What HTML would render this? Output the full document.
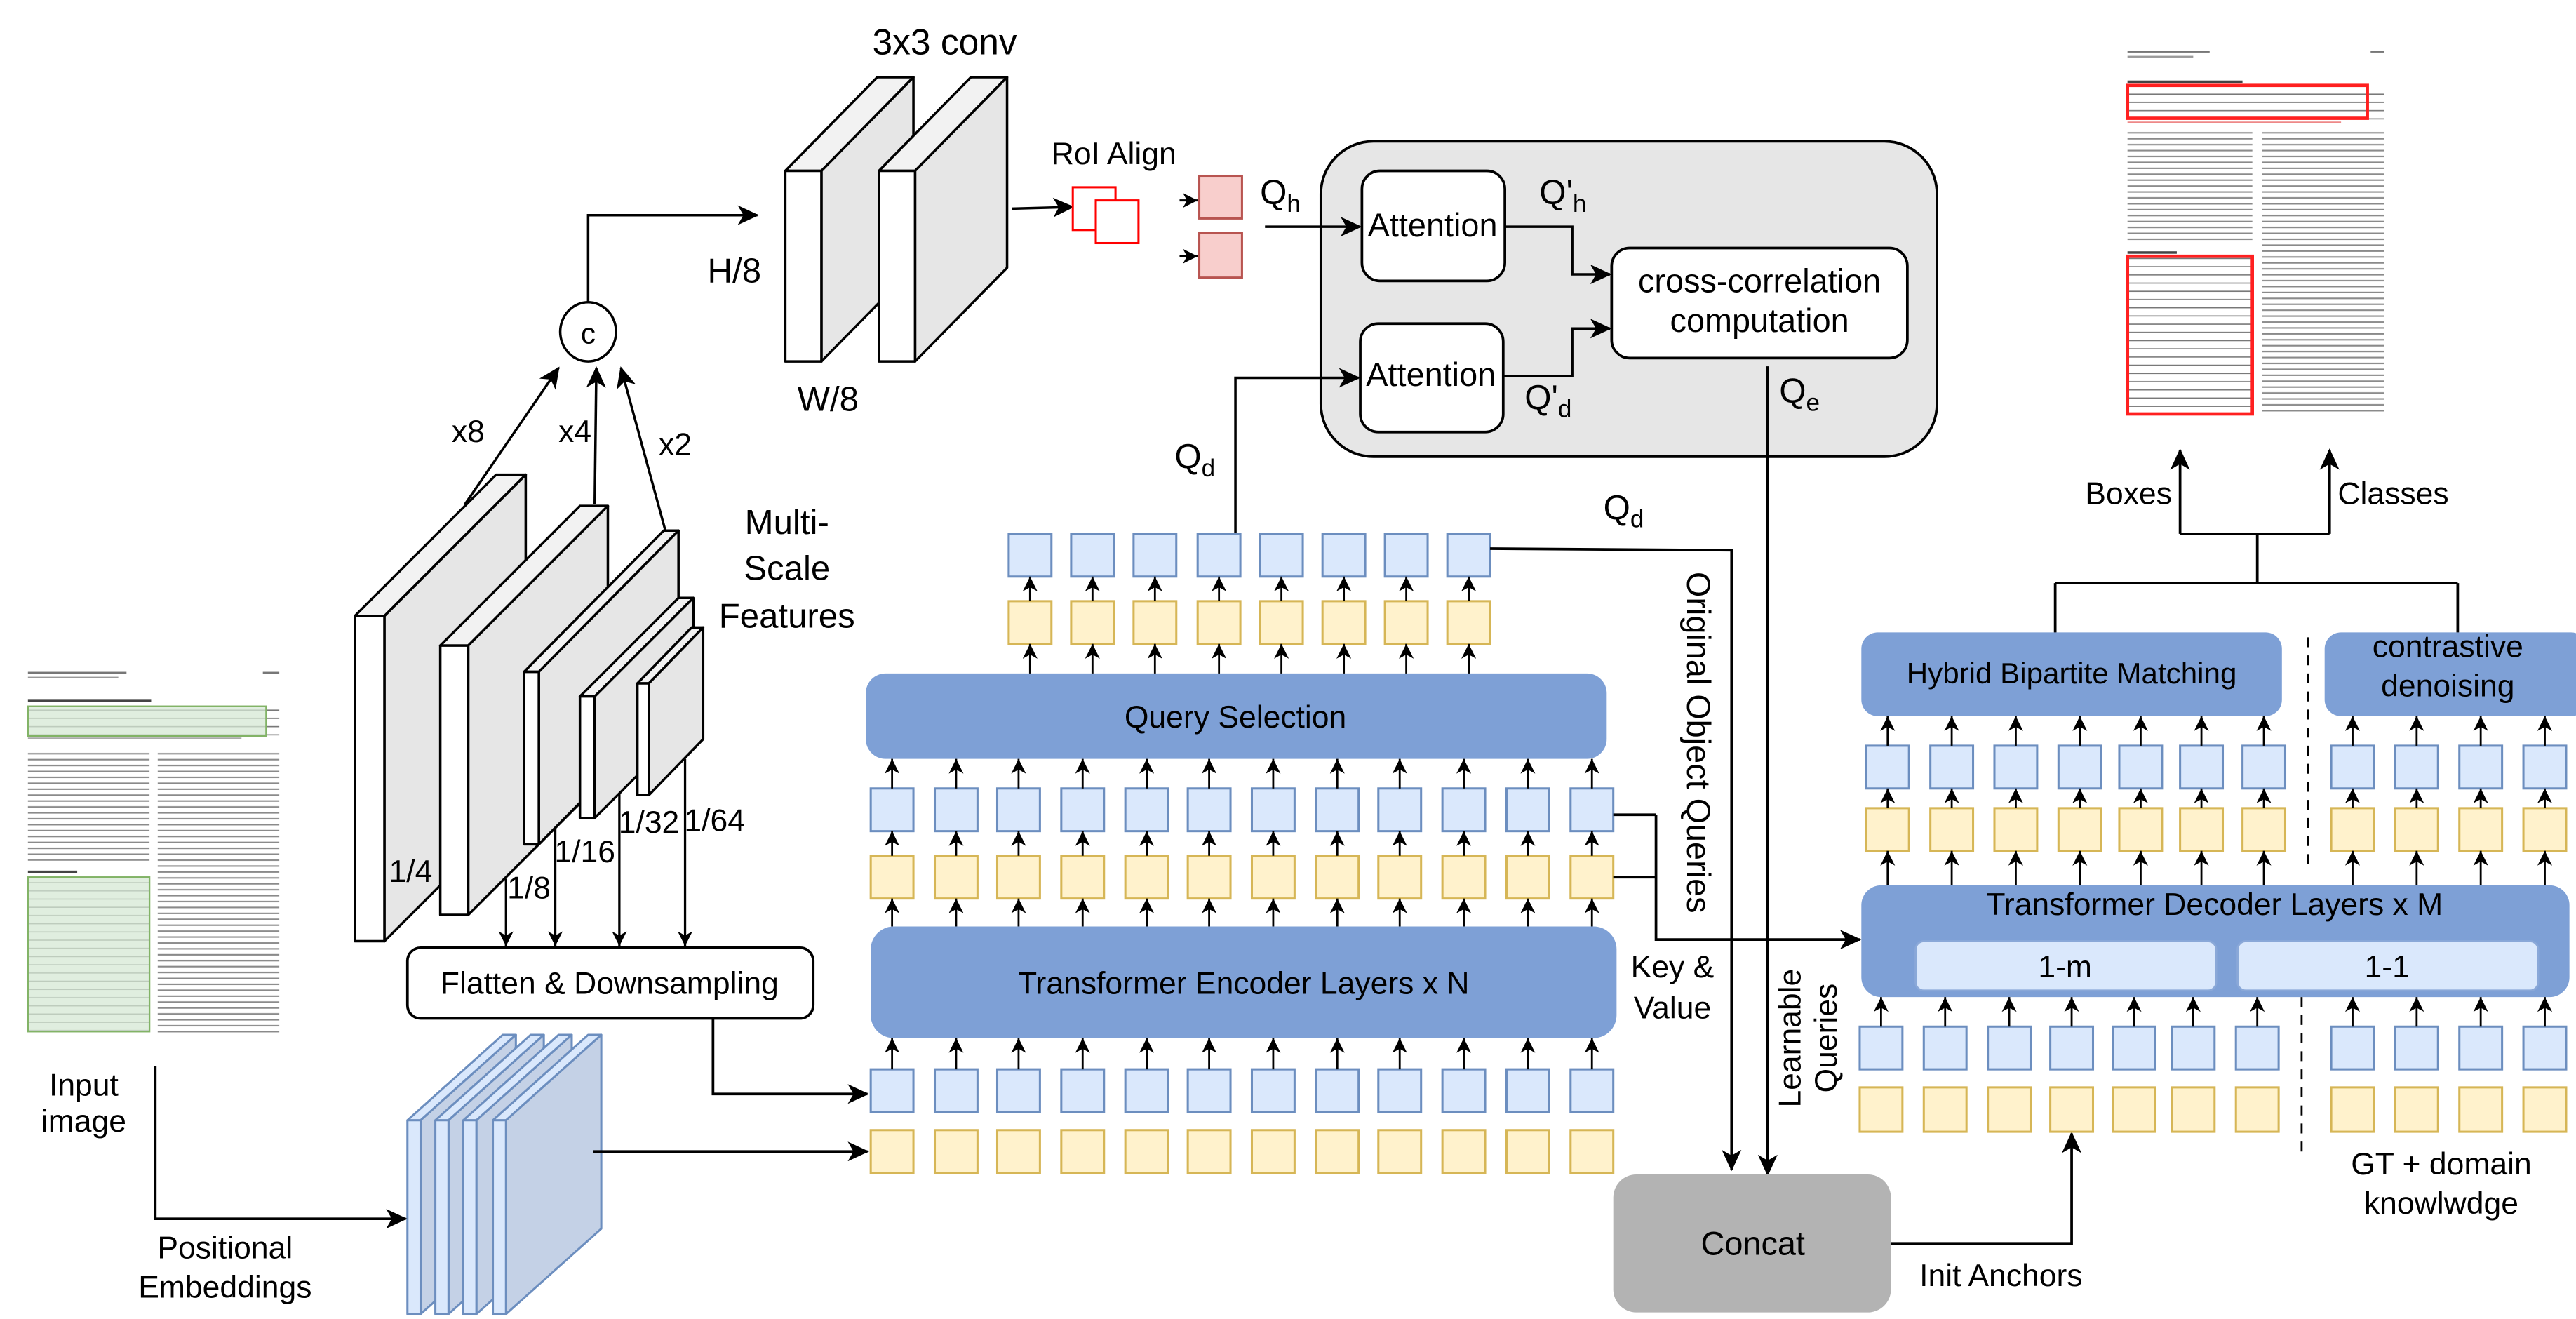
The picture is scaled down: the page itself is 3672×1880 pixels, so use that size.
<!DOCTYPE html>
<html><head><meta charset="utf-8"><style>
html,body{margin:0;padding:0;background:#fff;}
svg{display:block;}
text{font-family:"Liberation Sans",Arial,sans-serif;fill:#000;}
</style></head><body>
<svg xmlns="http://www.w3.org/2000/svg" width="3672" height="1880" viewBox="0 0 1568 803" preserveAspectRatio="none">
<defs>
<marker id="a" markerUnits="userSpaceOnUse" markerWidth="14" markerHeight="12" refX="12" refY="6" orient="auto"><path d="M0,0 L13,6 L0,12 L3.5,6 z" fill="#000"/></marker>
<marker id="s" markerUnits="userSpaceOnUse" markerWidth="10" markerHeight="9" refX="9" refY="4.5" orient="auto"><path d="M0,0 L9,4.5 L0,9 L2.5,4.5 z" fill="#000"/></marker>
<pattern id="tx" width="10" height="3.6" patternUnits="userSpaceOnUse"><rect x="0" y="1.2" width="10" height="0.9" fill="#8a8a8a"/></pattern>
<pattern id="tb" width="10" height="5" patternUnits="userSpaceOnUse"><rect x="0" y="2" width="10" height="0.7" fill="#777"/></pattern>
</defs>

<!-- ===== Left page thumbnail ===== -->
<g>
<rect x="17" y="409" width="60" height="1.3" fill="#777"/><rect x="17" y="412" width="55" height="1" fill="#999"/><rect x="160" y="409" width="10" height="1.3" fill="#777"/>
<rect x="17" y="426" width="75" height="1.5" fill="#444"/>
<rect x="17" y="430" width="153" height="18" fill="url(#tb)"/>
<rect x="17" y="430" width="145" height="18" fill="#d5e8d4" fill-opacity="0.75" stroke="#82b366" stroke-width="1"/>
<rect x="17" y="449" width="130" height="1" fill="#aaa"/>
<rect x="17" y="456" width="74" height="68" fill="url(#tx)"/>
<rect x="96" y="456" width="74" height="173" fill="url(#tx)"/>
<rect x="17" y="530" width="30" height="1.5" fill="#444"/>
<rect x="17" y="534" width="74" height="94" fill="url(#tb)"/>
<rect x="17" y="534" width="74" height="94" fill="#d5e8d4" fill-opacity="0.75" stroke="#82b366" stroke-width="1"/>
</g>

<!-- ===== Right page thumbnail ===== -->
<g>
<rect x="1295" y="31" width="50" height="1" fill="#777"/><rect x="1295" y="34" width="40" height="1" fill="#999"/><rect x="1443" y="31" width="8" height="1" fill="#777"/>
<rect x="1295" y="49" width="70" height="1.5" fill="#444"/>
<rect x="1295" y="53" width="156" height="20" fill="url(#tb)"/>
<rect x="1295" y="52" width="146" height="20" fill="none" stroke="#ff2020" stroke-width="2"/>
<rect x="1295" y="74" width="130" height="1" fill="#e88"/>
<rect x="1295" y="80" width="76" height="68" fill="url(#tx)"/>
<rect x="1377" y="80" width="74" height="173" fill="url(#tx)"/>
<rect x="1295" y="153" width="30" height="1.5" fill="#444"/>
<rect x="1295" y="156" width="76" height="96" fill="url(#tb)"/>
<rect x="1295" y="156" width="76" height="96" fill="none" stroke="#ff2020" stroke-width="2"/>
</g>

<!-- ===== Multi-scale feature slabs ===== -->
<g stroke="#000" stroke-width="1.5" stroke-linejoin="round">
<polygon points="216,375 234,375 320,289 302,289" fill="#f2f2f2"/>
<polygon points="234,375 320,289 320,487 234,573" fill="#e6e6e6"/>
<rect x="216" y="375" width="18" height="198" fill="#fff"/>
<polygon points="268,393 285,393 370,308 353,308" fill="#f2f2f2"/>
<polygon points="285,393 370,308 370,472 285,557" fill="#e6e6e6"/>
<rect x="268" y="393" width="17" height="164" fill="#fff"/>
<polygon points="319,409 328,409 413,323 404,323" fill="#f2f2f2"/>
<polygon points="328,409 413,323 413,428 328,514" fill="#e6e6e6"/>
<rect x="319" y="409" width="9" height="105" fill="#fff"/>
<polygon points="353,424 362,424 422,364 413,364" fill="#f2f2f2"/>
<polygon points="362,424 422,364 422,438 362,498" fill="#e6e6e6"/>
<rect x="353" y="424" width="9" height="74" fill="#fff"/>
<polygon points="388,416 395,416 428,382 421,382" fill="#f2f2f2"/>
<polygon points="395,416 428,382 428,450 395,484" fill="#e6e6e6"/>
<rect x="388" y="416" width="7" height="68" fill="#fff"/>
</g>
<g font-size="19" text-anchor="middle">
<text x="250" y="537">1/4</text>
<text x="322" y="547">1/8</text>
<text x="356" y="525">1/16</text>
<text x="395" y="507">1/32</text>
<text x="435" y="506">1/64</text>
</g>
<g stroke="#000" stroke-width="1.4" fill="none" marker-end="url(#s)">
<path d="M308,535 V576"/><path d="M338,504 V576"/><path d="M377,483 V576"/><path d="M417,462 V576"/>
</g>

<g stroke="#000" stroke-width="1.5" fill="none">
<ellipse cx="358" cy="202" rx="17" ry="18" fill="#fff"/>
<path d="M283,307 L340,224" marker-end="url(#a)"/>
<path d="M362,307 L363,224" marker-end="url(#a)"/>
<path d="M405,323 L378,224" marker-end="url(#a)"/>
<path d="M358,184 V131 H461" marker-end="url(#a)"/>
</g>
<text x="358" y="209" font-size="18" text-anchor="middle">c</text>
<g font-size="19" text-anchor="middle">
<text x="285" y="269">x8</text>
<text x="350" y="269">x4</text>
<text x="411" y="277">x2</text>
</g>
<g font-size="21" text-anchor="middle">
<text x="479" y="325">Multi-</text>
<text x="479" y="353">Scale</text>
<text x="479" y="382">Features</text>
</g>

<!-- ===== 3x3 conv slabs ===== -->
<g stroke="#000" stroke-width="1.5" stroke-linejoin="round">
<polygon points="478,104 500,104 556,47 534,47" fill="#f2f2f2"/>
<polygon points="500,104 556,47 556,163 500,220" fill="#e6e6e6"/>
<rect x="478" y="104" width="22" height="116" fill="#fff"/>
<polygon points="535,104 557,104 613,47 591,47" fill="#f2f2f2"/>
<polygon points="557,104 613,47 613,163 557,220" fill="#e6e6e6"/>
<rect x="535" y="104" width="22" height="116" fill="#fff"/>
</g>
<text x="575" y="33" font-size="22" text-anchor="middle">3x3 conv</text>
<text x="447" y="172" font-size="21" text-anchor="middle">H/8</text>
<text x="504" y="250" font-size="21" text-anchor="middle">W/8</text>

<!-- RoI Align -->
<text x="678" y="100" font-size="19" text-anchor="middle">RoI Align</text>
<path d="M616,127 L653,126" stroke="#000" stroke-width="1.5" marker-end="url(#a)"/>
<rect x="653" y="114" width="26" height="26" fill="#fff" stroke="#ff0000" stroke-width="1.3"/>
<rect x="667" y="122" width="26" height="26" fill="#fff" stroke="#ff0000" stroke-width="1.3"/>
<rect x="730" y="107" width="26" height="26" fill="#f8cecc" stroke="#b85450" stroke-width="1.3"/>
<rect x="730" y="142" width="26" height="27" fill="#f8cecc" stroke="#b85450" stroke-width="1.3"/>
<path d="M718,122 H729" stroke="#000" stroke-width="1.3" marker-end="url(#s)"/>
<path d="M718,156 H729" stroke="#000" stroke-width="1.3" marker-end="url(#s)"/>

<!-- ===== Gray attention container ===== -->
<rect x="804" y="86" width="375" height="192" rx="32" fill="#e6e6e6" stroke="#000" stroke-width="1.6"/>
<rect x="829" y="104" width="87" height="67" rx="11" fill="#fff" stroke="#000" stroke-width="1.6"/>
<rect x="828" y="197" width="87" height="66" rx="11" fill="#fff" stroke="#000" stroke-width="1.6"/>
<rect x="981" y="151" width="180" height="67" rx="11" fill="#fff" stroke="#000" stroke-width="1.6"/>
<text x="872" y="144" font-size="20" text-anchor="middle">Attention</text>
<text x="871" y="235" font-size="20" text-anchor="middle">Attention</text>
<text x="1071" y="178" font-size="20" text-anchor="middle">cross-correlation</text>
<text x="1071" y="202" font-size="20" text-anchor="middle">computation</text>
<g stroke="#000" stroke-width="1.5" fill="none">
<path d="M770,138 H828" marker-end="url(#a)"/>
<path d="M916,138 H957 V167 H980" marker-end="url(#a)"/>
<path d="M915,229 H957 V200 H980" marker-end="url(#a)"/>
<path d="M752,325 V230 H827" marker-end="url(#a)"/>
</g>
<g font-size="21">
<text x="767" y="124">Q<tspan font-size="15" dy="5">h</tspan></text>
<text x="937" y="124">Q'<tspan font-size="15" dy="5">h</tspan></text>
<text x="928" y="249">Q'<tspan font-size="15" dy="5">d</tspan></text>
<text x="1083" y="245">Q<tspan font-size="15" dy="5">e</tspan></text>
<text x="715" y="285">Q<tspan font-size="15" dy="5">d</tspan></text>
<text x="976" y="316">Q<tspan font-size="15" dy="5">d</tspan></text>
</g>

<!-- ===== Encoder side tokens ===== -->
<g stroke-width="1.3">
<g fill="#dae8fc" stroke="#6c8ebf">
<rect x="614" y="325" width="26" height="26"/><rect x="652" y="325" width="26" height="26"/><rect x="690" y="325" width="26" height="26"/><rect x="729" y="325" width="26" height="26"/><rect x="767" y="325" width="26" height="26"/><rect x="805" y="325" width="26" height="26"/><rect x="843" y="325" width="26" height="26"/><rect x="881" y="325" width="26" height="26"/>
</g>
<g fill="#fff2cc" stroke="#d6b656">
<rect x="614" y="366" width="26" height="26"/><rect x="652" y="366" width="26" height="26"/><rect x="690" y="366" width="26" height="26"/><rect x="729" y="366" width="26" height="26"/><rect x="767" y="366" width="26" height="26"/><rect x="805" y="366" width="26" height="26"/><rect x="843" y="366" width="26" height="26"/><rect x="881" y="366" width="26" height="26"/>
</g>
<g fill="#dae8fc" stroke="#6c8ebf">
<rect x="530" y="480" width="26" height="26"/><rect x="569" y="480" width="26" height="26"/><rect x="607" y="480" width="26" height="26"/><rect x="646" y="480" width="26" height="26"/><rect x="685" y="480" width="26" height="26"/><rect x="723" y="480" width="26" height="26"/><rect x="762" y="480" width="26" height="26"/><rect x="801" y="480" width="26" height="26"/><rect x="839" y="480" width="26" height="26"/><rect x="878" y="480" width="26" height="26"/><rect x="917" y="480" width="26" height="26"/><rect x="956" y="480" width="26" height="26"/>
<rect x="530" y="651" width="26" height="26"/><rect x="569" y="651" width="26" height="26"/><rect x="607" y="651" width="26" height="26"/><rect x="646" y="651" width="26" height="26"/><rect x="685" y="651" width="26" height="26"/><rect x="723" y="651" width="26" height="26"/><rect x="762" y="651" width="26" height="26"/><rect x="801" y="651" width="26" height="26"/><rect x="839" y="651" width="26" height="26"/><rect x="878" y="651" width="26" height="26"/><rect x="917" y="651" width="26" height="26"/><rect x="956" y="651" width="26" height="26"/>
</g>
<g fill="#fff2cc" stroke="#d6b656">
<rect x="530" y="521" width="26" height="26"/><rect x="569" y="521" width="26" height="26"/><rect x="607" y="521" width="26" height="26"/><rect x="646" y="521" width="26" height="26"/><rect x="685" y="521" width="26" height="26"/><rect x="723" y="521" width="26" height="26"/><rect x="762" y="521" width="26" height="26"/><rect x="801" y="521" width="26" height="26"/><rect x="839" y="521" width="26" height="26"/><rect x="878" y="521" width="26" height="26"/><rect x="917" y="521" width="26" height="26"/><rect x="956" y="521" width="26" height="26"/>
<rect x="530" y="688" width="26" height="26"/><rect x="569" y="688" width="26" height="26"/><rect x="607" y="688" width="26" height="26"/><rect x="646" y="688" width="26" height="26"/><rect x="685" y="688" width="26" height="26"/><rect x="723" y="688" width="26" height="26"/><rect x="762" y="688" width="26" height="26"/><rect x="801" y="688" width="26" height="26"/><rect x="839" y="688" width="26" height="26"/><rect x="878" y="688" width="26" height="26"/><rect x="917" y="688" width="26" height="26"/><rect x="956" y="688" width="26" height="26"/>
</g>
</g>
<rect x="527" y="410" width="451" height="52" rx="12" fill="#7ea0d6"/>
<rect x="530" y="564" width="454" height="68" rx="14" fill="#7ea0d6"/>
<text x="752" y="443" font-size="19" text-anchor="middle">Query Selection</text>
<text x="757" y="605" font-size="19" text-anchor="middle">Transformer Encoder Layers x N</text>

<g stroke="#000" stroke-width="1.2" fill="none" marker-end="url(#s)">
<path d="M627,366 V351"/><path d="M665,366 V351"/><path d="M703,366 V351"/><path d="M742,366 V351"/><path d="M780,366 V351"/><path d="M818,366 V351"/><path d="M856,366 V351"/><path d="M894,366 V351"/>
<path d="M627,410 V392"/><path d="M665,410 V392"/><path d="M703,410 V392"/><path d="M742,410 V392"/><path d="M780,410 V392"/><path d="M818,410 V392"/><path d="M856,410 V392"/><path d="M894,410 V392"/>
<path d="M543,480 V462"/><path d="M582,480 V462"/><path d="M620,480 V462"/><path d="M659,480 V462"/><path d="M698,480 V462"/><path d="M736,480 V462"/><path d="M775,480 V462"/><path d="M814,480 V462"/><path d="M852,480 V462"/><path d="M891,480 V462"/><path d="M930,480 V462"/><path d="M969,480 V462"/>
<path d="M543,521 V506"/><path d="M582,521 V506"/><path d="M620,521 V506"/><path d="M659,521 V506"/><path d="M698,521 V506"/><path d="M736,521 V506"/><path d="M775,521 V506"/><path d="M814,521 V506"/><path d="M852,521 V506"/><path d="M891,521 V506"/><path d="M930,521 V506"/><path d="M969,521 V506"/>
<path d="M543,564 V547"/><path d="M582,564 V547"/><path d="M620,564 V547"/><path d="M659,564 V547"/><path d="M698,564 V547"/><path d="M736,564 V547"/><path d="M775,564 V547"/><path d="M814,564 V547"/><path d="M852,564 V547"/><path d="M891,564 V547"/><path d="M930,564 V547"/><path d="M969,564 V547"/>
<path d="M543,651 V632"/><path d="M582,651 V632"/><path d="M620,651 V632"/><path d="M659,651 V632"/><path d="M698,651 V632"/><path d="M736,651 V632"/><path d="M775,651 V632"/><path d="M814,651 V632"/><path d="M852,651 V632"/><path d="M891,651 V632"/><path d="M930,651 V632"/><path d="M969,651 V632"/>
</g>

<rect x="248" y="577" width="247" height="43" rx="8" fill="#fff" stroke="#000" stroke-width="1.6"/>
<text x="371" y="605" font-size="19" text-anchor="middle">Flatten &amp; Downsampling</text>

<g stroke="#6c8ebf" stroke-width="1.3" stroke-linejoin="round">
<polygon points="248,682 256,682 314,630 306,630" fill="#dae8fc"/><polygon points="256,682 314,630 314,748 256,800" fill="#c4d1e6"/><rect x="248" y="682" width="8" height="118" fill="#dae8fc"/>
<polygon points="265,682 273,682 331,630 323,630" fill="#dae8fc"/><polygon points="273,682 331,630 331,748 273,800" fill="#c4d1e6"/><rect x="265" y="682" width="8" height="118" fill="#dae8fc"/>
<polygon points="282,682 290,682 348,630 340,630" fill="#dae8fc"/><polygon points="290,682 348,630 348,748 290,800" fill="#c4d1e6"/><rect x="282" y="682" width="8" height="118" fill="#dae8fc"/>
<polygon points="300,682 308,682 366,630 358,630" fill="#dae8fc"/><polygon points="308,682 366,630 366,748 308,800" fill="#c4d1e6"/><rect x="300" y="682" width="8" height="118" fill="#dae8fc"/>
</g>

<g stroke="#000" stroke-width="1.6" fill="none">
<path d="M434,620 V666 H528" marker-end="url(#a)"/>
<path d="M361,701 H528" marker-end="url(#a)"/>
<path d="M94.5,649 V742 H247" marker-end="url(#a)"/>
<path d="M907,334 L1054,335 V712" marker-end="url(#a)"/>
<path d="M1076,223 V715" marker-end="url(#a)"/>
<path d="M982,496 H1008 M982,534 H1008 M1008,496 V572 H1132" marker-end="url(#a)"/>
<path d="M1151,757 H1261 V690" marker-end="url(#a)"/>
</g>
<g font-size="19" text-anchor="middle">
<text x="51" y="667">Input</text>
<text x="51" y="689">image</text>
<text x="137" y="766">Positional</text>
<text x="137" y="790">Embeddings</text>
<text x="1018" y="595">Key &amp;</text>
<text x="1018" y="620">Value</text>
</g>
<text font-size="20" text-anchor="middle" transform="translate(1027,452) rotate(90)">Original Object Queries</text>
<g font-size="19" text-anchor="middle">
<text transform="translate(1096,632) rotate(-90)">Learnable</text>
<text transform="translate(1118,632) rotate(-90)">Queries</text>
</g>

<rect x="982" y="715" width="169" height="84" rx="14" fill="#b3b3b3"/>
<text x="1067" y="764" font-size="20" text-anchor="middle">Concat</text>
<text x="1218" y="783" font-size="19" text-anchor="middle">Init Anchors</text>

<!-- ===== Decoder side ===== -->
<rect x="1133" y="385" width="256" height="51" rx="10" fill="#7ea0d6"/>
<rect x="1415" y="385" width="160" height="51" rx="10" fill="#7ea0d6"/>
<text x="1261" y="416" font-size="18" text-anchor="middle">Hybrid Bipartite Matching</text>
<text x="1490" y="400" font-size="19" text-anchor="middle">contrastive</text>
<text x="1490" y="424" font-size="19" text-anchor="middle">denoising</text>

<rect x="1133" y="539" width="431" height="68" rx="12" fill="#7ea0d6"/>
<text x="1348" y="557" font-size="19" text-anchor="middle">Transformer Decoder Layers x M</text>
<rect x="1166" y="573" width="183" height="30" rx="5" fill="#dae8fc" stroke="#8aa8d8" stroke-width="1.2"/>
<rect x="1362" y="573" width="183" height="30" rx="5" fill="#dae8fc" stroke="#8aa8d8" stroke-width="1.2"/>
<text x="1257" y="595" font-size="19" text-anchor="middle">1-m</text>
<text x="1453" y="595" font-size="19" text-anchor="middle">1-1</text>

<g stroke-width="1.3">
<g fill="#dae8fc" stroke="#6c8ebf">
<rect x="1136" y="454" width="26" height="26"/><rect x="1175" y="454" width="26" height="26"/><rect x="1214" y="454" width="26" height="26"/><rect x="1253" y="454" width="26" height="26"/><rect x="1290" y="454" width="26" height="26"/><rect x="1327" y="454" width="26" height="26"/><rect x="1365" y="454" width="26" height="26"/><rect x="1419" y="454" width="26" height="26"/><rect x="1458" y="454" width="26" height="26"/><rect x="1497" y="454" width="26" height="26"/><rect x="1536" y="454" width="26" height="26"/>
<rect x="1132" y="625" width="26" height="26"/><rect x="1171" y="625" width="26" height="26"/><rect x="1210" y="625" width="26" height="26"/><rect x="1248" y="625" width="26" height="26"/><rect x="1286" y="625" width="26" height="26"/><rect x="1322" y="625" width="26" height="26"/><rect x="1361" y="625" width="26" height="26"/><rect x="1419" y="625" width="26" height="26"/><rect x="1458" y="625" width="26" height="26"/><rect x="1497" y="625" width="26" height="26"/><rect x="1536" y="625" width="26" height="26"/>
</g>
<g fill="#fff2cc" stroke="#d6b656">
<rect x="1136" y="492" width="26" height="26"/><rect x="1175" y="492" width="26" height="26"/><rect x="1214" y="492" width="26" height="26"/><rect x="1253" y="492" width="26" height="26"/><rect x="1290" y="492" width="26" height="26"/><rect x="1327" y="492" width="26" height="26"/><rect x="1365" y="492" width="26" height="26"/><rect x="1419" y="492" width="26" height="26"/><rect x="1458" y="492" width="26" height="26"/><rect x="1497" y="492" width="26" height="26"/><rect x="1536" y="492" width="26" height="26"/>
<rect x="1132" y="662" width="26" height="27"/><rect x="1171" y="662" width="26" height="27"/><rect x="1210" y="662" width="26" height="27"/><rect x="1248" y="662" width="26" height="27"/><rect x="1286" y="662" width="26" height="27"/><rect x="1322" y="662" width="26" height="27"/><rect x="1361" y="662" width="26" height="27"/><rect x="1419" y="662" width="26" height="27"/><rect x="1458" y="662" width="26" height="27"/><rect x="1497" y="662" width="26" height="27"/><rect x="1536" y="662" width="26" height="27"/>
</g>
</g>
<g stroke="#000" stroke-width="1.2" fill="none" marker-end="url(#s)">
<path d="M1149,454 V436"/><path d="M1188,454 V436"/><path d="M1227,454 V436"/><path d="M1266,454 V436"/><path d="M1303,454 V436"/><path d="M1340,454 V436"/><path d="M1378,454 V436"/><path d="M1432,454 V436"/><path d="M1471,454 V436"/><path d="M1510,454 V436"/><path d="M1549,454 V436"/>
<path d="M1149,492 V480"/><path d="M1188,492 V480"/><path d="M1227,492 V480"/><path d="M1266,492 V480"/><path d="M1303,492 V480"/><path d="M1340,492 V480"/><path d="M1378,492 V480"/><path d="M1432,492 V480"/><path d="M1471,492 V480"/><path d="M1510,492 V480"/><path d="M1549,492 V480"/>
<path d="M1149,539 V518"/><path d="M1188,539 V518"/><path d="M1227,539 V518"/><path d="M1266,539 V518"/><path d="M1303,539 V518"/><path d="M1340,539 V518"/><path d="M1378,539 V518"/><path d="M1432,539 V518"/><path d="M1471,539 V518"/><path d="M1510,539 V518"/><path d="M1549,539 V518"/>
<path d="M1145,625 V607"/><path d="M1184,625 V607"/><path d="M1223,625 V607"/><path d="M1261,625 V607"/><path d="M1299,625 V607"/><path d="M1335,625 V607"/><path d="M1374,625 V607"/><path d="M1432,625 V607"/><path d="M1471,625 V607"/><path d="M1510,625 V607"/><path d="M1549,625 V607"/>
</g>
<g stroke="#000" stroke-width="1.2" stroke-dasharray="6,5" fill="none">
<path d="M1405,388 V529"/><path d="M1401,607 V701"/>
</g>

<g stroke="#000" stroke-width="1.6" fill="none">
<path d="M1327,325 V274" marker-end="url(#a)"/>
<path d="M1418,325 V274" marker-end="url(#a)"/>
<path d="M1327,325 H1418 M1374,325 V355 M1251,355 H1496 M1251,355 V385 M1496,355 V385"/>
</g>
<text x="1322" y="307" font-size="19" text-anchor="end">Boxes</text>
<text x="1423" y="307" font-size="19">Classes</text>
<g font-size="19" text-anchor="middle">
<text x="1486" y="715">GT + domain</text>
<text x="1486" y="739">knowlwdge</text>
</g>
</svg>
</body></html>
